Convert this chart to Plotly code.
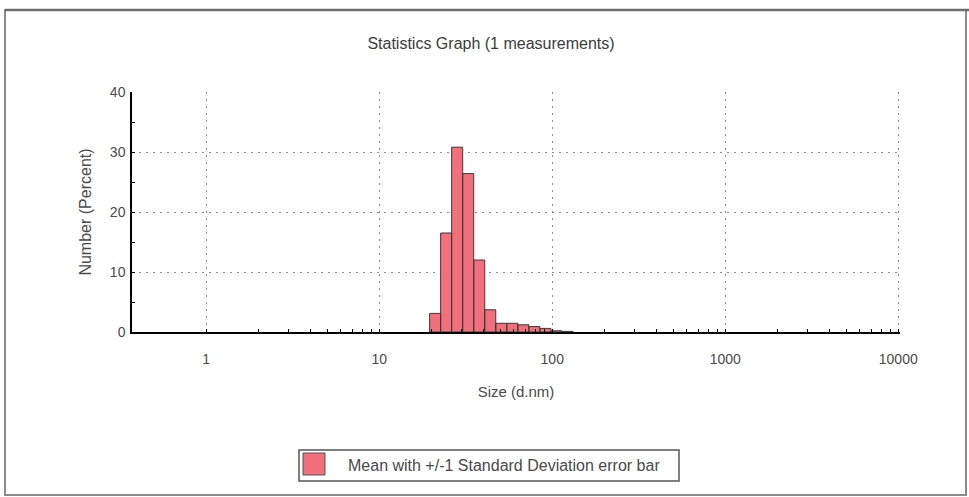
import math
import plotly.graph_objects as go

# ---- data ----
size_classes = [21.04, 24.36, 28.21, 32.67, 37.84, 43.82, 50.75, 58.77, 68.06, 78.82, 91.28, 105.7, 122.4]
number_pct = [3.1, 16.5, 30.8, 26.4, 12.0, 3.7, 1.45, 1.45, 1.2, 0.9, 0.6, 0.2, 0.1]
x_major = [1, 10, 100, 1000, 10000]
x_major_text = ["1", "10", "100", "1000", "10000"]
y_major = [0, 10, 20, 30, 40]
y_minor = [5, 15, 25, 35]
title_text = "Statistics Graph (1 measurements)"
x_title = "Size (d.nm)"
y_title = "Number (Percent)"
legend_text = "Mean with +/-1 Standard Deviation error bar"

# size classes are log-spaced; bars span half a class step each side
log_step = math.log10(size_classes[1] / size_classes[0])
half = 10 ** (log_step / 2)

xs, ys = [], []
for c, v in zip(size_classes, number_pct):
    lo, hi = c / half, c * half
    xs += [lo, lo, hi, hi, lo, None]
    ys += [0, v, v, 0, 0, None]

x_minor = [k * 10 ** d for d in range(0, 4) for k in range(2, 10)]
x_all = sorted(x_major + x_minor)

W, H = 969, 497
L, R, T, B = 132, 900, 92, 332
PW, PH = R - L, B - T


def px(x):
    return (x - L) / PW


def py(y):
    return (B - y) / PH


FONT = "Liberation Sans, Arial, sans-serif"
TXT = "#4a4a4a"
RED = "#F2707B"

fig = go.Figure()
fig.add_trace(go.Scatter(
    x=xs, y=ys, mode="lines", fill="toself",
    fillcolor=RED, line=dict(color="#3a3a3a", width=1),
    showlegend=False, hoverinfo="skip"))

xr = [-0.429, 4.01]
fig.update_layout(
    width=W, height=H,
    margin=dict(l=L, r=W - R, t=T, b=H - B),
    paper_bgcolor="white", plot_bgcolor="white",
    showlegend=False,
    font=dict(family=FONT, size=14, color=TXT),
    title=dict(text=title_text, x=491 / W, xref="container",
               xanchor="center", y=1 - 43 / H, yanchor="middle",
               font=dict(family=FONT, size=16, color="#3c3c3c")),
    xaxis=dict(
        type="log", range=xr, tickmode="array", tickvals=x_major, ticktext=x_major_text,
        ticks="inside", ticklen=3, tickcolor="black", tickwidth=1,
        minor=dict(tickvals=x_minor, ticks="inside", ticklen=3, tickcolor="black", showgrid=False),
        showline=True, linecolor="black", linewidth=1.5,
        showgrid=True, gridcolor="#8c8c8c", gridwidth=1, griddash="2px,5px",
        zeroline=False, ticklabelstandoff=13,
        tickfont=dict(size=14, color=TXT),
        title=dict(text=x_title, standoff=21, font=dict(size=15, color=TXT)),
    ),
    xaxis2=dict(
        type="log", range=xr, overlaying="x", side="bottom", anchor="y",
        tickmode="array", tickvals=x_all, ticks="outside", ticklen=3, tickcolor="black",
        showticklabels=False, showgrid=False, showline=False, zeroline=False,
    ),
    yaxis=dict(
        range=[0, 40], tickmode="array", tickvals=y_major,
        ticks="inside", ticklen=3, tickcolor="black",
        minor=dict(tickvals=y_minor, ticks="inside", ticklen=3, tickcolor="black", showgrid=False),
        showline=True, linecolor="black", linewidth=1.5,
        showgrid=True, gridcolor="#8c8c8c", gridwidth=1, griddash="2px,5px",
        zeroline=False, tickfont=dict(size=14, color=TXT), ticklabelstandoff=2,
        title=dict(text=y_title, standoff=14, font=dict(size=16, color=TXT)),
    ),
    yaxis2=dict(
        range=[0, 40], overlaying="y", side="left", anchor="x",
        tickmode="array", tickvals=sorted(y_major + y_minor), ticks="outside", ticklen=3,
        tickcolor="black", showticklabels=False, showgrid=False, showline=False, zeroline=False,
    ),
)

shapes = [
    # outer frame
    dict(type="rect", xref="paper", yref="paper", x0=px(5), x1=px(966), y0=py(10), y1=py(495),
         line=dict(color="#8a8a8a", width=2), layer="below"),
    dict(type="line", xref="paper", yref="paper", x0=px(5), x1=px(969), y0=py(10), y1=py(10),
         line=dict(color="#6e6e6e", width=2.5)),
    # legend box
    dict(type="rect", xref="paper", yref="paper", x0=px(299), x1=px(679), y0=py(450), y1=py(481),
         line=dict(color="#555555", width=1.5), fillcolor="white"),
    dict(type="rect", xref="paper", yref="paper", x0=px(303), x1=px(325), y0=py(453), y1=py(475),
         line=dict(color="#555555", width=1), fillcolor=RED),
]
fig.update_layout(shapes=shapes)
fig.add_annotation(text=legend_text, xref="paper", yref="paper", x=px(346), y=py(465.5),
                   xanchor="left", yanchor="middle", showarrow=False,
                   font=dict(family=FONT, size=16, color=TXT))

fig.write_html("out.html", config={"displayModeBar": False},
               post_script="document.body.style.margin='0';document.body.style.overflow='hidden';")
